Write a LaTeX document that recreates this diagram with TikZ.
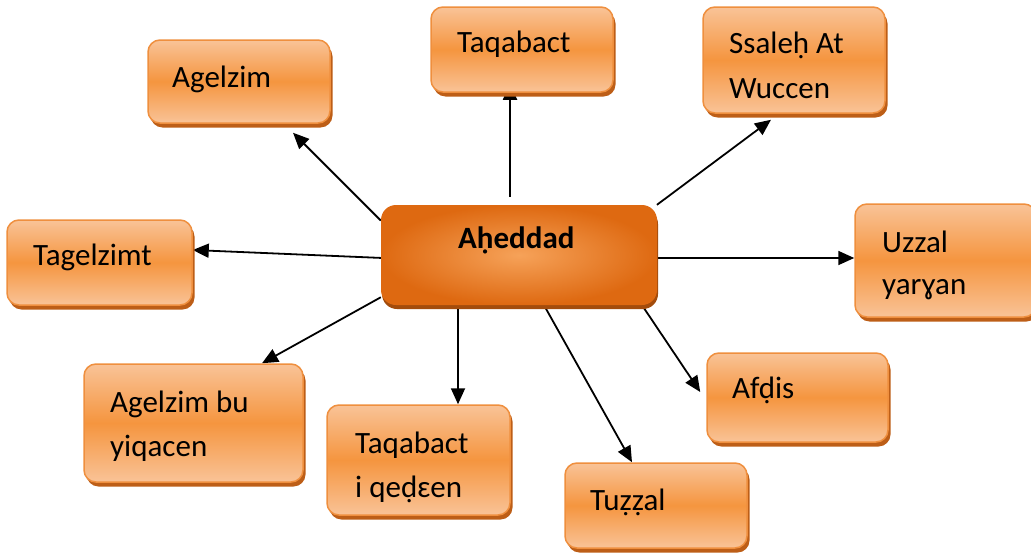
\documentclass[tikz,border=0pt]{standalone}
\usepackage{fontspec}
\setmainfont{Carlito}
\usetikzlibrary{arrows.meta,calc,shadows}

\definecolor{boxtop}{HTML}{F9C397}
\definecolor{boxmid}{HTML}{F5953F}
\definecolor{boxedge}{HTML}{EF8F3E}
\definecolor{boxshade}{HTML}{BD5E17}
\definecolor{hubin}{HTML}{F6A259}
\definecolor{hubout}{HTML}{DE6911}
\definecolor{hubshade}{HTML}{A34C0C}

\pgfdeclarelayer{paper}
\pgfdeclarelayer{links}
\pgfsetlayers{paper,links,main}

\tikzset{
  leaf/.style={rectangle, rounded corners=12pt, draw=boxedge, line width=1.5pt,
    top color=boxtop, bottom color=boxtop, middle color=boxmid, inner sep=0pt,
    general shadow={fill=boxshade, shadow xshift=2.5pt, shadow yshift=-4.5pt}},
  hubbox/.style={rectangle, rounded corners=15pt, draw=none,
    inner color=hubin, outer color=hubout, inner sep=0pt,
    general shadow={fill=hubshade, shadow xshift=1pt, shadow yshift=-4pt}},
  txt/.style={anchor=base west, inner sep=0pt, font=\fontsize{31}{37}\selectfont},
  link/.style={line width=1.8pt, -{Triangle[length=16pt,width=14pt]}},
}

\begin{document}
\begin{tikzpicture}[x=1pt,y=-1pt]
\useasboundingbox (0,0) rectangle (1031,554);
\begin{pgfonlayer}{paper}
\fill[white] (0,0) rectangle (1031,554);
\end{pgfonlayer}

% central box
\node[hubbox, minimum width=276pt, minimum height=100pt] (hub) at (519,255) {};
\node[txt, font=\fontsize{31}{37}\selectfont\bfseries] (hub-t) at (458,248) {Aḥeddad};

% surrounding boxes
\node[leaf, minimum width=182pt, minimum height=83pt] (agelzim) at (239,81.5) {};
\node[txt] (agelzim-t) at (172,87) {Agelzim};

\node[leaf, minimum width=182pt, minimum height=85pt] (taqabact) at (522,49.5) {};
\node[txt] (taqabact-t) at (457,52) {Taqabact};

\node[leaf, minimum width=182pt, minimum height=106pt] (ssaleh) at (794,60) {};
\node[txt] (ssaleh-t1) at (729,53) {Ssaleḥ At};
\node[txt] (ssaleh-t2) at (729,98) {Wuccen};

\node[leaf, minimum width=185pt, minimum height=85pt] (tagelzimt) at (99.5,262.5) {};
\node[txt] (tagelzimt-t) at (33,265) {Tagelzimt};

\node[leaf, minimum width=181pt, minimum height=113pt] (uzzal) at (945.5,260.5) {};
\node[txt] (uzzal-t1) at (882,252) {Uzzal};
\node[txt] (uzzal-t2) at (882,294) {yarɣan};

\node[leaf, minimum width=181pt, minimum height=89pt] (afdis) at (797.5,397.5) {};
\node[txt] (afdis-t) at (732,398) {Afḍis};

\node[leaf, minimum width=182pt, minimum height=85pt] (tuzzal) at (656,505.5) {};
\node[txt] (tuzzal-t) at (590,510) {Tuẓẓal};

\node[leaf, minimum width=219pt, minimum height=118pt] (agelzimbu) at (193.5,423) {};
\node[txt] (agelzimbu-t1) at (110,412) {Agelzim bu};
\node[txt] (agelzimbu-t2) at (110,456) {yiqacen};

\node[leaf, minimum width=183pt, minimum height=110pt] (qeden) at (418.5,460) {};
\node[txt] (qeden-t1) at (355,453) {Taqabact};
\node[txt] (qeden-t2) at (355,497) {i qeḍɛen};

% connectors, drawn beneath the boxes
\begin{pgfonlayer}{links}
\draw[link] (hub.166.5) -- ($(agelzim.south)+(54,9)$);
\draw[link] ($(hub.north)+(-9,-8)$) -- ($(taqabact.south)+(-12,-9)$);
\draw[link] (hub.20.5) -- ($(ssaleh.south)+(-23,6)$);
\draw[link] ($(hub.west)+(2,3)$) -- ($(tagelzimt.east)+(0,-12.5)$);
\draw[link] ($(hub.east)+(-2,3)$) -- ($(uzzal.west)+(0,-2.5)$);
\draw[link] (hub.197) -- ($(agelzimbu.north)+(68.5,0)$);
\draw[link] ($(hub.south)+(-61,0)$) -- ($(qeden.north)+(39.5,0)$);
\draw[link] ($(hub.south)+(25,0)$) -- ($(tuzzal.north)+(-24,0)$);
\draw[link] ($(hub.south)+(123,0)$) -- ($(afdis.west)+(-6,-5.5)$);
\end{pgfonlayer}
\end{tikzpicture}
\end{document}
